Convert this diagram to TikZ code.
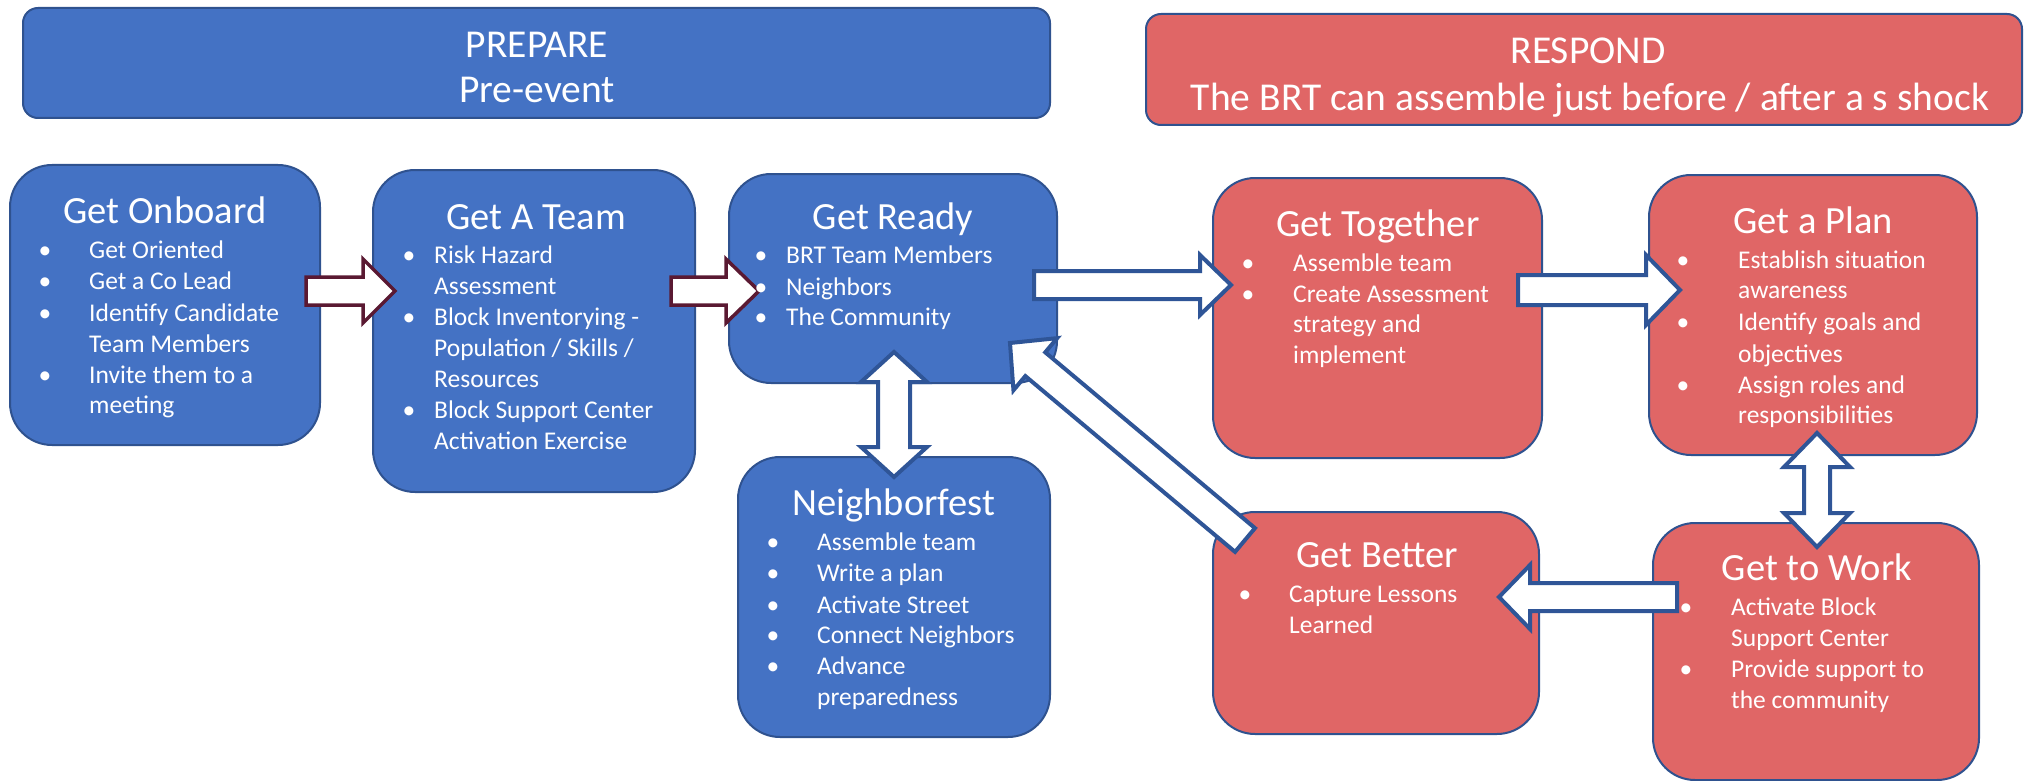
\documentclass[tikz,border=0pt]{standalone}
\usepackage{fontspec}
\setmainfont{Carlito}
\usetikzlibrary{calc}
\definecolor{boxblue}{RGB}{68,114,196}
\definecolor{boxred}{RGB}{224,102,102}
\definecolor{edgeblue}{RGB}{47,82,143}
\definecolor{arrblue}{RGB}{47,85,151}
\definecolor{arrmaroon}{RGB}{90,25,50}
% single block arrow: style, from, tip, shaft half width, head half width, head length
\newcommand\blockarrow[6]{%
  \coordinate (ba-h) at ($(#3)!#6pt!(#2)$);
  \draw[#1] ($(#2)!#4pt!90:(#3)$) -- ($(ba-h)!#4pt!90:(#3)$) -- ($(ba-h)!#5pt!90:(#3)$) -- (#3)
    -- ($(ba-h)!#5pt!-90:(#3)$) -- ($(ba-h)!#4pt!-90:(#3)$) -- ($(#2)!#4pt!-90:(#3)$) -- cycle;}
% double block arrow
\newcommand\dblarrow[6]{%
  \coordinate (ba-h1) at ($(#2)!#6pt!(#3)$);
  \coordinate (ba-h2) at ($(#3)!#6pt!(#2)$);
  \draw[#1] (#2) -- ($(ba-h1)!#5pt!90:(#3)$) -- ($(ba-h1)!#4pt!90:(#3)$) -- ($(ba-h2)!#4pt!90:(#3)$)
    -- ($(ba-h2)!#5pt!90:(#3)$) -- (#3) -- ($(ba-h2)!#5pt!-90:(#3)$) -- ($(ba-h2)!#4pt!-90:(#3)$)
    -- ($(ba-h1)!#4pt!-90:(#3)$) -- ($(ba-h1)!#5pt!-90:(#3)$) -- cycle;}
\tikzset{
  bluebox/.style={draw=edgeblue, line width=2pt, fill=boxblue, rounded corners=42pt, inner sep=0},
  redbox/.style={draw=edgeblue, line width=2pt, fill=boxred, rounded corners=42pt, inner sep=0},
  hdrblue/.style={bluebox, rounded corners=15pt},
  hdrred/.style={redbox, rounded corners=15pt},
  ttl/.style={inner sep=0, text=white, font=\fontsize{38.5}{44}\selectfont, anchor=base},
  hdr/.style={inner sep=0, text=white, font=\fontsize{39.5}{45}\selectfont, anchor=base},
  txt/.style={inner sep=0, text=white, font=\fontsize{25.5}{31}\selectfont, anchor=base west},
  bul/.style={inner sep=0, text=white, font=\fontsize{25.5}{31}\selectfont, anchor=base},
  barrm/.style={draw=arrmaroon, fill=white, line width=3.5pt, line join=miter},
  barrb/.style={draw=arrblue, fill=white, line width=4pt, line join=miter},
}
% bullet line: name, bullet x, text x, baseline y, text
\newcommand\bline[5]{\node[bul] (#1b) at (#2,#4) {\textbullet}; \node[txt] (#1) at (#3,#4) {#5};}
% continuation line: name, text x, baseline y, text
\newcommand\contline[4]{\node[txt] (#1) at (#2,#3) {#4};}
\begin{document}
\begin{tikzpicture}[x=1pt,y=-1pt]
\useasboundingbox (0,0) rectangle (2024,781);
% headers
\node[hdrblue, minimum width=1027pt, minimum height=110pt] (prep) at (536.5,63) {};
\node[hdrred, minimum width=876pt, minimum height=111pt] (resp) at (1584,69.5) {};
% boxes
\node[bluebox, minimum width=310pt, minimum height=280pt] (gob) at (165,305) {};
\node[bluebox, minimum width=322pt, minimum height=322pt] (gat) at (534,331) {};
\node[bluebox, minimum width=328pt, minimum height=209pt] (grd) at (893,278.5) {};
\node[bluebox, minimum width=312pt, minimum height=280pt] (nbf) at (894,597) {};
\node[redbox, minimum width=329pt, minimum height=280pt] (gtg) at (1377.5,318) {};
\node[redbox, minimum width=328pt, minimum height=280pt] (gpl) at (1813,315) {};
\node[redbox, minimum width=326pt, minimum height=222pt] (gbt) at (1376,623) {};
\node[redbox, minimum width=326pt, minimum height=257pt] (gtw) at (1816,651.5) {};
% arrow end points
\coordinate (a1s) at (306,291); \coordinate (a1e) at (395,291);
\coordinate (a2s) at (671,291); \coordinate (a2e) at (759,291);
\coordinate (a3s) at (1034,285); \coordinate (a3e) at (1231,285);
\coordinate (a4s) at (1245,540); \coordinate (a4e) at (1010,343);
\coordinate (a5s) at (894,352); \coordinate (a5e) at (894,477);
\coordinate (a6s) at (1518,290); \coordinate (a6e) at (1680,290);
\coordinate (a7s) at (1817,433); \coordinate (a7e) at (1817,547);
\coordinate (a8s) at (1677,597); \coordinate (a8e) at (1499,597);
\blockarrow{barrm}{a1s}{a1e}{14}{32}{32}
\blockarrow{barrm}{a2s}{a2e}{14}{32}{33}
\blockarrow{barrb}{a3s}{a3e}{14}{30}{31}
\blockarrow{barrb}{a4s}{a4e}{15.5}{34}{33}
\dblarrow{barrb}{a5s}{a5e}{16}{33}{30}
\blockarrow{barrb}{a6s}{a6e}{15}{35}{34}
\dblarrow{barrb}{a7s}{a7e}{13}{33}{34}
\blockarrow{barrb}{a8s}{a8e}{14}{32}{31}
% header texts
\node[hdr] (prep1) at (537,58) {PREPARE};
\node[hdr] (prep2) at (537,103) {Pre-event};
\node[hdr] (resp1) at (1588,64) {RESPOND};
\node[hdr] (resp2) at (1590,111) {The BRT can assemble just before / after a s shock};
% Get Onboard
\node[ttl] (gobt) at (165,223) {Get Onboard};
\bline{gob1}{45}{89}{258}{Get Oriented}
\bline{gob2}{45}{89}{289}{Get a Co Lead}
\bline{gob3}{45}{89}{321}{Identify Candidate}
\contline{gob4}{89}{352}{Team Members}
\bline{gob5}{45}{89}{383}{Invite them to a}
\contline{gob6}{89}{413}{meeting}
% Get A Team
\node[ttl] (gatt) at (536,229) {Get A Team};
\bline{gat1}{409}{434}{263}{Risk Hazard}
\contline{gat2}{434}{294}{Assessment}
\bline{gat3}{409}{434}{325}{Block Inventorying -}
\contline{gat4}{434}{356}{Population / Skills /}
\contline{gat5}{434}{387}{Resources}
\bline{gat6}{409}{434}{418}{Block Support Center}
\contline{gat7}{434}{449}{Activation Exercise}
% Get Ready
\node[ttl] (grdt) at (893,229) {Get Ready};
\bline{grd1}{761}{786}{263}{BRT Team Members}
\bline{grd2}{761}{786}{295}{Neighbors}
\bline{grd3}{761}{786}{325}{The Community}
% Neighborfest
\node[ttl] (nbft) at (894,515) {Neighborfest};
\bline{nbf1}{773}{817}{550}{Assemble team}
\bline{nbf2}{773}{817}{581}{Write a plan}
\bline{nbf3}{773}{817}{613}{Activate Street}
\bline{nbf4}{773}{817}{643}{Connect Neighbors}
\bline{nbf5}{773}{817}{674}{Advance}
\contline{nbf6}{817}{705}{preparedness}
% Get Together
\node[ttl] (gtgt) at (1378,236) {Get Together};
\bline{gtg1}{1248}{1293}{271}{Assemble team}
\bline{gtg2}{1248}{1293}{302}{Create Assessment}
\contline{gtg3}{1293}{332}{strategy and}
\contline{gtg4}{1293}{363}{implement}
% Get a Plan
\node[ttl] (gplt) at (1813,233) {Get a Plan};
\bline{gpl1}{1683}{1738}{268}{Establish situation}
\contline{gpl2}{1738}{298}{awareness}
\bline{gpl3}{1683}{1738}{330}{Identify goals and}
\contline{gpl4}{1738}{362}{objectives}
\bline{gpl5}{1683}{1738}{393}{Assign roles and}
\contline{gpl6}{1738}{423}{responsibilities}
% Get Better
\node[ttl] (gbtt) at (1377,567) {Get Better};
\bline{gbt1}{1245}{1289}{602}{Capture Lessons}
\contline{gbt2}{1289}{633}{Learned}
% Get to Work
\node[ttl] (gtwt) at (1817,580) {Get to Work};
\bline{gtw1}{1686}{1731}{615}{Activate Block}
\contline{gtw2}{1731}{646}{Support Center}
\bline{gtw3}{1686}{1731}{677}{Provide support to}
\contline{gtw4}{1731}{708}{the community}
\end{tikzpicture}
\end{document}
